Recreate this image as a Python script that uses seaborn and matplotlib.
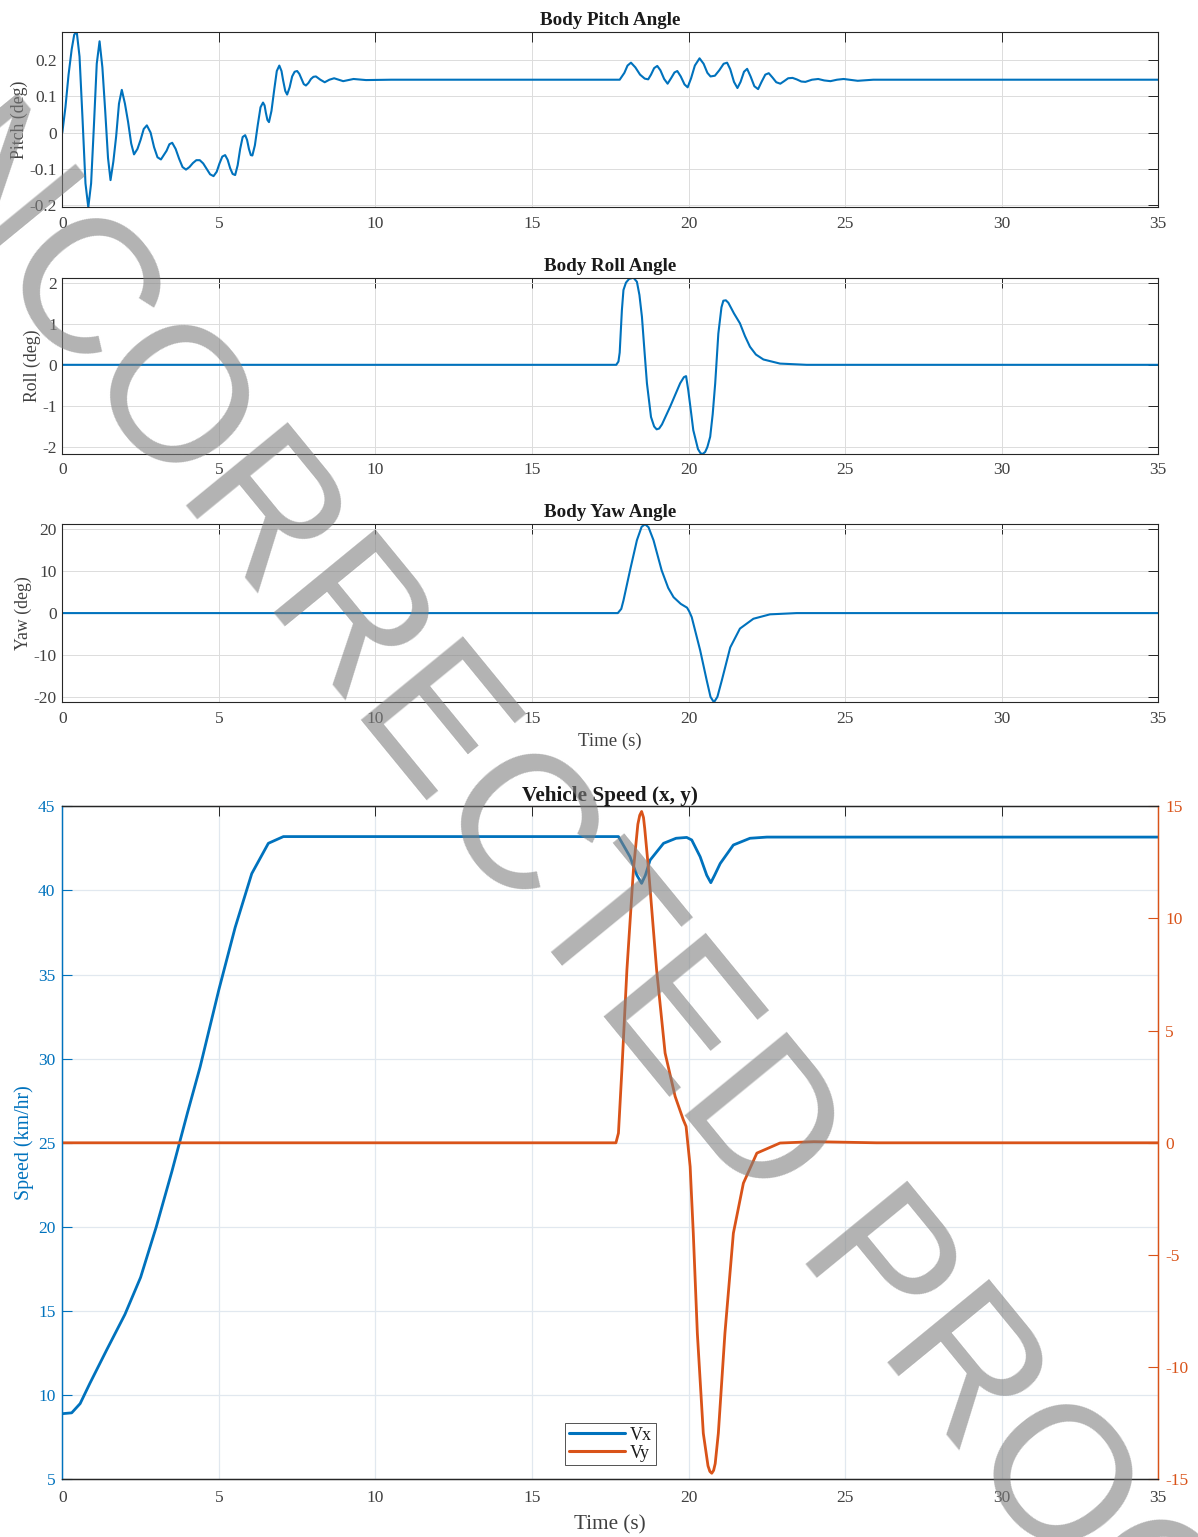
import numpy as np
import pandas as pd
import seaborn as sns
import matplotlib
matplotlib.use('Agg')
import matplotlib.pyplot as plt
from matplotlib.ticker import FormatStrFormatter
from matplotlib.lines import Line2D

# valores (tempo em s)
pitch_t = [0.00, 0.10, 0.20, 0.30, 0.38, 0.46, 0.55, 0.645, 0.74, 0.83, 0.92, 1.01, 1.10, 1.19,
           1.28, 1.37, 1.46, 1.54, 1.63, 1.72, 1.81, 1.90, 2.00, 2.10, 2.20, 2.29, 2.40, 2.50,
           2.60, 2.70, 2.82, 2.93, 3.04, 3.15, 3.33, 3.42, 3.51, 3.62, 3.73, 3.84, 3.95, 4.06,
           4.17, 4.28, 4.39, 4.50, 4.61, 4.72, 4.83, 4.93, 5.02, 5.11, 5.20, 5.28, 5.36, 5.44,
           5.52, 5.60, 5.68, 5.76, 5.84, 5.90, 5.96, 6.02, 6.07, 6.15, 6.24, 6.33, 6.41, 6.46,
           6.50, 6.55, 6.60, 6.68, 6.77, 6.85, 6.93, 7.00, 7.05, 7.12, 7.18, 7.26, 7.34, 7.42,
           7.50, 7.57, 7.64, 7.71, 7.78, 7.86, 7.94, 8.02, 8.10, 8.24, 8.38, 8.53, 8.68, 8.82,
           8.97, 9.30, 9.70, 10.5, 17.80, 17.95, 18.05, 18.16, 18.30, 18.45, 18.60, 18.71,
           18.80, 18.90, 19.00, 19.10, 19.22, 19.33, 19.44, 19.55, 19.64, 19.75, 19.87, 19.97,
           20.08, 20.20, 20.35, 20.48, 20.60, 20.70, 20.84, 20.98, 21.12, 21.23, 21.33, 21.45,
           21.56, 21.66, 21.77, 21.87, 21.98, 22.10, 22.22, 22.33, 22.45, 22.56, 22.68, 22.80,
           22.93, 23.05, 23.18, 23.32, 23.45, 23.60, 23.73, 23.94, 24.14, 24.33, 24.53, 24.74,
           24.95, 25.40, 25.90, 35.00]
pitch_deg = [0.000, 0.070, 0.160, 0.230, 0.270, 0.279, 0.210, 0.040, -0.140, -0.206, -0.140,
             0.020, 0.190, 0.252, 0.180, 0.060, -0.070, -0.131, -0.080, -0.010, 0.080, 0.118,
             0.080, 0.030, -0.030, -0.060, -0.045, -0.020, 0.010, 0.020, 0.000, -0.040,
             -0.068, -0.074, -0.050, -0.032, -0.028, -0.045, -0.072, -0.095, -0.102, -0.095,
             -0.084, -0.076, -0.076, -0.085, -0.100, -0.115, -0.120, -0.108, -0.085, -0.066,
             -0.062, -0.075, -0.098, -0.114, -0.117, -0.090, -0.045, -0.012, -0.007, -0.020,
             -0.045, -0.062, -0.063, -0.035, 0.020, 0.070, 0.083, 0.075, 0.055, 0.035, 0.029,
             0.060, 0.120, 0.170, 0.185, 0.170, 0.145, 0.115, 0.105, 0.125, 0.155, 0.168,
             0.170, 0.162, 0.148, 0.134, 0.130, 0.137, 0.148, 0.154, 0.155, 0.146, 0.139,
             0.146, 0.150, 0.146, 0.142, 0.148, 0.145, 0.146, 0.146, 0.165, 0.185, 0.193,
             0.180, 0.160, 0.149, 0.147, 0.160, 0.178, 0.184, 0.172, 0.148, 0.135, 0.150,
             0.166, 0.170, 0.155, 0.133, 0.125, 0.150, 0.185, 0.205, 0.190, 0.165, 0.155,
             0.157, 0.172, 0.190, 0.193, 0.175, 0.140, 0.123, 0.140, 0.168, 0.176, 0.155,
             0.128, 0.120, 0.140, 0.160, 0.164, 0.152, 0.139, 0.135, 0.142, 0.150, 0.151,
             0.147, 0.141, 0.140, 0.146, 0.148, 0.144, 0.142, 0.146, 0.148, 0.143, 0.146,
             0.146]

roll_t = [0.0, 17.69, 17.76, 17.80, 17.87, 17.92, 18.00, 18.10, 18.24, 18.35, 18.43, 18.51,
          18.59, 18.67, 18.80, 18.90, 18.98, 19.06, 19.15, 19.41, 19.73, 19.85, 19.92, 19.99,
          20.07, 20.15, 20.30, 20.38, 20.45, 20.53, 20.60, 20.69, 20.77, 20.85, 20.95, 21.05,
          21.11, 21.19, 21.27, 21.45, 21.64, 21.80, 21.96, 22.15, 22.39, 22.92, 23.77, 35.0]
roll_deg = [0.0, 0.0, 0.08, 0.3, 1.33, 1.82, 2.00, 2.09, 2.12, 2.02, 1.70, 1.17, 0.35, -0.45,
            -1.27, -1.50, -1.57, -1.55, -1.45, -1.02, -0.45, -0.30, -0.275, -0.62, -1.10,
            -1.59, -2.05, -2.15, -2.17, -2.12, -2.00, -1.75, -1.20, -0.45, 0.76, 1.40, 1.56,
            1.57, 1.51, 1.25, 1.01, 0.70, 0.44, 0.25, 0.13, 0.03, 0.0, 0.0]

yaw_t = [0.0, 17.74, 17.85, 17.92, 18.13, 18.35, 18.50, 18.61, 18.72, 18.88, 19.14, 19.35,
         19.52, 19.75, 19.95, 20.02, 20.10, 20.37, 20.58, 20.70, 20.81, 20.92, 21.06, 21.33,
         21.64, 22.07, 22.60, 23.45, 35.0]
yaw_deg = [0.0, 0.0, 1.0, 3.0, 10.2, 17.4, 20.6, 21.2, 20.5, 17.4, 10.2, 6.0, 3.8, 2.2, 1.3,
           0.4, -0.96, -8.9, -16.1, -20.0, -21.3, -20.0, -16.1, -8.2, -3.7, -1.35, -0.3,
           0.0, 0.0]

vx_t = [0.00, 0.30, 0.57, 0.88, 1.42, 2.00, 2.50, 3.00, 3.50, 4.00, 4.40, 5.00, 5.52, 6.05,
        6.58, 7.06, 17.76, 18.13, 18.35, 18.50, 18.62, 18.77, 19.20, 19.60, 19.94, 20.10,
        20.37, 20.58, 20.71, 20.83, 21.01, 21.43, 21.96, 22.50, 35.0]
vx_kmh = [8.9, 8.95, 9.5, 10.7, 12.7, 14.8, 17.0, 20.0, 23.3, 26.8, 29.5, 34.1, 37.8, 41.0,
          42.8, 43.2, 43.2, 42.0, 40.9, 40.42, 40.9, 41.8, 42.8, 43.1, 43.15, 43.0, 42.0,
          40.9, 40.46, 40.9, 41.6, 42.7, 43.1, 43.17, 43.17]

vy_t = [0.0, 17.68, 17.76, 17.87, 18.03, 18.24, 18.38, 18.44, 18.50, 18.56, 18.60, 18.72,
        18.98, 19.25, 19.57, 19.83, 19.92, 20.05, 20.15, 20.28, 20.47, 20.62, 20.68, 20.74,
        20.80, 20.85, 20.95, 21.16, 21.43, 21.75, 22.18, 22.92, 24.00, 26.00, 35.0]
vy_kmh = [0.0, 0.0, 0.43, 3.25, 7.7, 12.2, 14.2, 14.6, 14.77, 14.5, 14.0, 12.2, 7.7, 4.0,
          2.07, 1.03, 0.73, -1.06, -4.03, -8.5, -12.95, -14.4, -14.65, -14.73, -14.6,
          -14.3, -12.95, -8.5, -4.03, -1.8, -0.46, -0.01, 0.05, 0.0, 0.0]

x_ticks = [0, 5, 10, 15, 20, 25, 30, 35]

AZUL = '#0072BD'
LARANJA = '#D95319'
EIXO = '#262626'
TEXTO = '#404040'
GRADE = '#dcdcdc'

sns.set_theme(style='white')
plt.rcParams['font.family'] = ['Liberation Serif', 'DejaVu Serif']
plt.rcParams['axes.unicode_minus'] = False
plt.rcParams['lines.solid_joinstyle'] = 'round'

fig = plt.figure(figsize=(11.98, 15.37), dpi=100)
W, H = 1198, 1537


def caixa(top, bottom):
    return [62.3 / W, 1 - bottom / H, 1096 / W, (bottom - top) / H]


def painel_pequeno(ax, t, y, titulo, ylabel, xlabel=None):
    sns.lineplot(x=t, y=y, ax=ax, color=AZUL, linewidth=1.5, estimator=None, sort=False)
    ax.set_xlim(0, 35)
    ax.set_ylim(min(y), max(y))
    ax.set_xticks(x_ticks)
    ax.yaxis.set_major_formatter(FormatStrFormatter('%g'))
    ax.tick_params(direction='in', length=7, width=0.7, colors=EIXO, labelcolor=TEXTO,
                   labelsize=12.5, top=True, right=True, pad=4)
    ax.tick_params(axis='x', pad=6)
    for s in ax.spines.values():
        s.set_color(EIXO)
        s.set_linewidth(0.8)
    ax.grid(True, color=GRADE, linewidth=0.7)
    ax.set_title(titulo, fontsize=13.7, fontweight='bold', color='#1a1a1a', pad=5)
    ax.set_ylabel(ylabel, fontsize=12.8, color=TEXTO, labelpad=1)
    ax.set_xlabel(xlabel if xlabel else '', fontsize=13.5, color=TEXTO, labelpad=4)


ax1 = fig.add_axes(caixa(31.5, 207.3))
painel_pequeno(ax1, pitch_t, pitch_deg, 'Body Pitch Angle', 'Pitch (deg)')
ax1.set_yticks([-0.2, -0.1, 0, 0.1, 0.2])

ax2 = fig.add_axes(caixa(277.7, 454))
painel_pequeno(ax2, roll_t, roll_deg, 'Body Roll Angle', 'Roll (deg)')
ax2.set_yticks([-2, -1, 0, 1, 2])

ax3 = fig.add_axes(caixa(524.3, 702.3))
painel_pequeno(ax3, yaw_t, yaw_deg, 'Body Yaw Angle', 'Yaw (deg)', 'Time (s)')
ax3.set_yticks([-20, -10, 0, 10, 20])

# velocidade com dois eixos
ax4 = fig.add_axes(caixa(806.3, 1479.3))
sns.lineplot(x=vx_t, y=vx_kmh, ax=ax4, color=AZUL, linewidth=2.0, estimator=None, sort=False)
ax4.set_xlim(0, 35)
ax4.set_ylim(5, 45)
ax4.set_xticks(x_ticks)
ax4.set_yticks([5, 10, 15, 20, 25, 30, 35, 40, 45])
ax4.grid(True, color='#e1e8ef', linewidth=0.9)
ax4.tick_params(axis='x', direction='in', length=7.5, width=0.7, colors=EIXO, labelcolor=TEXTO,
                labelsize=12.5, top=True, pad=8)
ax4.tick_params(axis='y', direction='in', length=7.5, width=0.8, colors=AZUL, labelcolor=AZUL,
                labelsize=12.5, pad=5)
ax4.set_ylabel('Speed (km/hr)', fontsize=14.4, color=AZUL, labelpad=3)
ax4.set_xlabel('Time (s)', fontsize=15.2, color=TEXTO, labelpad=6)
ax4.set_title('Vehicle Speed (x, y)', fontsize=15.3, fontweight='bold', color='#1a1a1a', pad=4)

ax4r = ax4.twinx()
sns.lineplot(x=vy_t, y=vy_kmh, ax=ax4r, color=LARANJA, linewidth=2.0, estimator=None, sort=False)
ax4r.set_ylim(-15, 15)
ax4r.set_yticks([-15, -10, -5, 0, 5, 10, 15])
ax4r.tick_params(axis='y', direction='in', length=7.5, width=0.8, colors=LARANJA,
                 labelcolor=LARANJA, labelsize=12.5, pad=5)
ax4r.set_ylabel('')
ax4r.grid(False)
for a in (ax4, ax4r):
    a.spines['top'].set_color(EIXO)
    a.spines['bottom'].set_color(EIXO)
    a.spines['left'].set_color(AZUL)
    a.spines['right'].set_color(LARANJA)
    for s in a.spines.values():
        s.set_linewidth(0.9)

handles = [Line2D([], [], color=AZUL, linewidth=2.2), Line2D([], [], color=LARANJA, linewidth=2.2)]
leg = ax4r.legend(handles, ['Vx', 'Vy'], loc='lower center', bbox_to_anchor=(0.5, 0.021),
                  fontsize=13, frameon=True, fancybox=False, handlelength=3.1,
                  handletextpad=0.3, labelspacing=0.05, borderpad=0.2, borderaxespad=0)
leg.get_frame().set_edgecolor(EIXO)
leg.get_frame().set_linewidth(0.7)
for txt in leg.get_texts():
    txt.set_color('#1a1a1a')

# marca d'água
fig.text(560 / W, 1 - 886 / H, 'UNCORRECTED PROOF', family=['Liberation Sans', 'DejaVu Sans'],
         fontsize=138, color='#808080', alpha=0.6, rotation=-50.7, rotation_mode='anchor',
         ha='center', va='center', zorder=10)

plt.savefig('out.png', dpi=100)
plt.close()
